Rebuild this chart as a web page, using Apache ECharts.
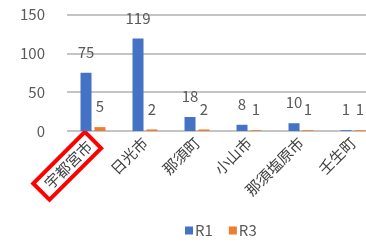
<!DOCTYPE html>
<html>
<head>
<meta charset="utf-8">
<script src="https://cdn.jsdelivr.net/npm/echarts@6/dist/echarts.min.js"></script>
<style>
html,body{margin:0;padding:0;background:#fff;overflow:hidden;}
/* the original picture is cropped on the right, so the chart is a bit wider than the window */
#main{width:380px;height:243px;}
</style>
</head>
<body>
<div id="main"></div>
<script>
var cities = ['宇都宮市', '日光市', '那須町', '小山市', '那須塩原市', '壬生町'];
var r1 = [75, 119, 18, 8, 10, 1];
var r3 = [5, 2, 2, 1, 1, 1];
var yTicks = [0, 50, 100, 150];

var font = '"Noto Sans CJK JP", "Noto Sans", sans-serif';
var myChart = echarts.init(document.getElementById('main'));
var option = {
    animation: false,
    textStyle: {fontFamily: font},
    grid: {left: 67, right: 1, top: 14.5, height: 116.5, containLabel: false},
    legend: {
        left: 180,
        top: 218,
        itemWidth: 8,
        itemHeight: 8,
        itemGap: 16,
        icon: 'rect',
        textStyle: {fontSize: 15, color: '#595959', fontFamily: font, padding: [0, 0, 0, -3]},
        data: ['R1', 'R3']
    },
    xAxis: {
        type: 'category',
        data: cities,
        axisLine: {show: false},
        axisTick: {show: false},
        axisLabel: {
            rotate: 45,
            margin: 9,
            fontSize: 15,
            color: '#404040',
            interval: 0,
            formatter: function (v, i) {
                return i === 0 ? '{hl|' + v + '}' : v;
            },
            rich: {
                hl: {
                    fontSize: 15,
                    color: '#404040',
                    borderColor: '#ff0000',
                    borderWidth: 4,
                    padding: [4, 5, 4, 8]
                }
            }
        }
    },
    yAxis: {
        type: 'value',
        min: yTicks[0],
        max: yTicks[yTicks.length - 1],
        interval: 50,
        axisLine: {show: false},
        axisTick: {show: false},
        axisLabel: {fontSize: 15, color: '#595959', margin: 22},
        splitLine: {lineStyle: {color: '#c4c4c4', width: 2}}
    },
    series: [
        {
            name: 'R1',
            type: 'bar',
            data: r1,
            barWidth: 11,
            barGap: '27%',
            itemStyle: {color: '#4472C4'},
            label: {show: true, position: 'top', distance: 13, fontSize: 15, color: '#595959'}
        },
        {
            name: 'R3',
            type: 'bar',
            data: r3,
            barWidth: 11,
            itemStyle: {color: '#ED7D31'},
            label: {show: true, position: 'top', distance: 13, fontSize: 15, color: '#595959'}
        }
    ]
};
myChart.setOption(option);
</script>
</body>
</html>
